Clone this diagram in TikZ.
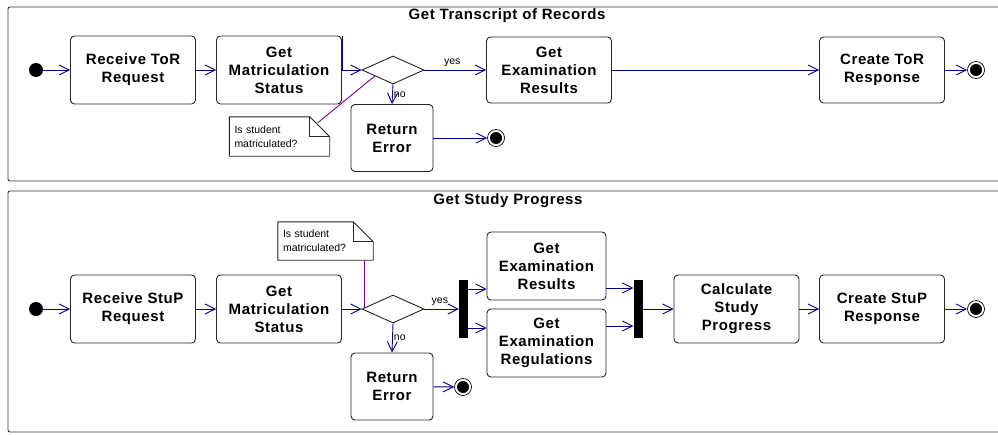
\documentclass[tikz,border=0pt]{standalone}
\usepackage{fontspec}
\setsansfont{Liberation Sans}[LetterSpace=4]
\newfontfamily\notefont{Liberation Sans}
\usetikzlibrary{arrows.meta,shapes.geometric,calc}
\definecolor{flowBlue}  {RGB}{0,  0,  128}
\definecolor{notePurple}{RGB}{128,0,  128}

\begin{document}
\begin{tikzpicture}[x=1pt,y=-1pt,
          act/.style={rectangle,rounded corners=4pt,draw=black!85,fill=white,
                      line width=0.9pt,minimum width=125pt,minimum height=68pt,
                      align=center,font=\sffamily\bfseries\fontsize{15}{18}\selectfont},
          dec/.style={diamond,draw=black!85,fill=white,line width=0.9pt,
                      minimum width=62pt,minimum height=28pt,inner sep=0pt},
          start/.style={circle,fill=black,minimum size=14pt,inner sep=0pt},
          endn/.style={circle,draw=black,fill=white,line width=0.7pt,
                       minimum size=17pt,inner sep=0pt,
                       path picture={\fill[black] (path picture bounding box.center) circle (6pt);}},
          bar/.style={rectangle,fill=black,minimum width=9pt,minimum height=58pt,inner sep=0pt},
          flow/.style={draw=flowBlue,line width=0.9pt,-{Straight Barb[length=10pt,width=10pt]}},
          lane/.style={draw=black!80,line width=0.9pt,rounded corners=2pt},
          ttl/.style={font=\sffamily\bfseries\fontsize{15}{18}\selectfont},
          lbl/.style={font=\notefont\fontsize{10.5}{12}\selectfont,inner sep=1pt},
          note/.style={align=left,text width=90pt,inner sep=5pt,minimum height=39pt,
                       font=\notefont\fontsize{10.5}{14}\selectfont},
          notebox/.style={draw=black!85,fill=white,line width=0.9pt},
          link/.style={draw=notePurple,line width=0.9pt}]
  \useasboundingbox (0,0) rectangle (998,434);
  \clip (0,0) rectangle (998,434);
  % swimlane frames
  \draw[lane] (8,7) rectangle (1010,181);
  \draw[lane] (8,191) rectangle (1010,432);
  \node[ttl] (t1) at (507,16) {Get Transcript of Records};
  \node[ttl] (t2) at (508,201) {Get Study Progress};

  % transcript of records
  \node[start] (s1) at (36,70) {};
  \node[act] (rcv1) at (133,70) {Receive ToR\\Request};
  \node[act] (mat1) at (279,70) {Get\\Matriculation\\Status};
  \node[dec] (dec1) at (393,70) {};
  \node[act,minimum height=66pt] (exr1) at (549,70) {Get\\Examination\\Results};
  \node[act,minimum height=66pt] (tor1) at (882,70) {Create ToR\\Response};
  \node[endn] (e1b) at (976,70) {};
  \node[act,minimum width=82pt,minimum height=67pt] (err1) at (392,138) {Return\\Error};
  \node[endn] (e1a) at (496,138) {};
  \node[note] (note1) at (279.5,136.5) {Is student\\matriculated?};
  \draw[notebox] (note1.south west) |- ($(note1.north east)+(-20,0)$)
        -- ($(note1.north east)+(0,20)$) -- (note1.south east) -- cycle;
  \draw[notebox,fill=none] ($(note1.north east)+(-20,0)$) |- ($(note1.north east)+(0,20)$);
  \node[note] at (note1) {Is student\\matriculated?};
  \draw[link] ($(note1.north east)+(-12,6)$) -- ($(dec1.west)!0.42!(dec1.south)$);

  \draw[flow] (s1) -- (rcv1);
  \draw[flow] (rcv1) -- (mat1);
  \draw[flow] (mat1.north east) -- (mat1.east) -- (dec1.west);
  \draw[flow] (dec1.east) -- (exr1.west) node[lbl,pos=0.45,above=2pt]{yes};
  \draw[flow] (dec1.south) -- (err1.north) node[lbl,pos=0.5,right]{no};
  \draw[flow] (exr1) -- (tor1);
  \draw[flow] (tor1) -- (e1b);
  \draw[flow] (err1) -- (e1a);

  % study progress
  \node[start] (s2) at (36,309) {};
  \node[act] (rcv2) at (133,309) {Receive StuP\\Request};
  \node[act] (mat2) at (279,309) {Get\\Matriculation\\Status};
  \node[dec] (dec2) at (393,309) {};
  \node[bar] (fork) at (463.5,309) {};
  \node[act,minimum width=119pt] (exr2) at (546.5,266) {Get\\Examination\\Results};
  \node[act,minimum width=119pt] (reg2) at (546.5,343) {Get\\Examination\\Regulations};
  \node[bar] (join) at (638,309) {};
  \node[act] (calc) at (736.5,309) {Calculate\\Study\\Progress};
  \node[act] (stup) at (882,309) {Create StuP\\Response};
  \node[endn] (e2b) at (976,309) {};
  \node[act,minimum width=82pt,minimum height=67pt] (err2) at (392,386.5) {Return\\Error};
  \node[endn] (e2a) at (463,387) {};
  \node[note,text width=85pt,minimum height=38pt] (note2) at (325.5,241) {Is student\\matriculated?};
  \draw[notebox] (note2.south west) |- ($(note2.north east)+(-20,0)$)
        -- ($(note2.north east)+(0,20)$) -- (note2.south east) -- cycle;
  \draw[notebox,fill=none] ($(note2.north east)+(-20,0)$) |- ($(note2.north east)+(0,20)$);
  \node[note,text width=85pt,minimum height=38pt] at (note2) {Is student\\matriculated?};
  \coordinate (n2) at ($(dec2.west)!0.1!(dec2.north)$);
  \draw[link] (n2) -- (n2 |- note2.south);

  \coordinate (f1) at ($(fork.east)+(0,-20)$);
  \coordinate (f2) at ($(fork.east)+(0,19)$);
  \coordinate (j1) at ($(exr2.east)+(0,22)$);
  \coordinate (j2) at ($(reg2.east)+(0,-17)$);
  \draw[flow] (s2) -- (rcv2);
  \draw[flow] (rcv2) -- (mat2);
  \draw[flow] (mat2) -- (dec2.west);
  \draw[flow] (dec2.east) -- (fork.west) node[lbl,pos=0.45,above=2pt]{yes};
  \draw[flow] (dec2.south) -- (err2.north) node[lbl,pos=0.5,right]{no};
  \draw[flow] (f1) -- (f1 -| exr2.west);
  \draw[flow] (f2) -- (f2 -| reg2.west);
  \draw[flow] (j1) -- (j1 -| join.west);
  \draw[flow] (j2) -- (j2 -| join.west);
  \draw[flow] (join) -- (calc);
  \draw[flow] (calc) -- (stup);
  \draw[flow] (stup) -- (e2b);
  \draw[flow] (err2) -- (e2a);
\end{tikzpicture}
\end{document}
